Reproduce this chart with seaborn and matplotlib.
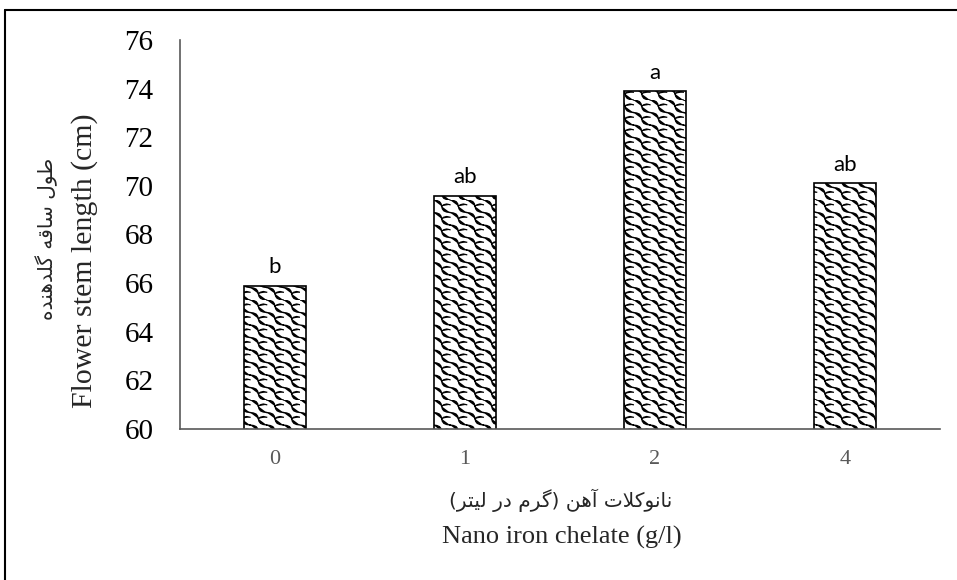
import numpy as np
import pandas as pd
import matplotlib
matplotlib.use("Agg")
import matplotlib.pyplot as plt
import seaborn as sns
from matplotlib import hatch as mhatch
from matplotlib.path import Path
from matplotlib.lines import Line2D

# ---------------- data ----------------
categories = ["0", "1", "2", "4"]
values = [65.9, 69.6, 73.9, 70.1]
letters = ["b", "ab", "a", "ab"]
yticks = [60, 62, 64, 66, 68, 70, 72, 74, 76]

ylabel_en = "Flower stem length (cm)"
ylabel_fa = "طول ساقه گلدهنده"
xlabel_en = "Nano iron chelate (g/l)"
xlabel_fa = "نانوکلات آهن (گرم در لیتر)"

# ---------------- minimal Persian shaping ----------------
FORMS = {
    'ا': ('\uFE8D', '\uFE8E', None, None),
    'آ': ('\uFE81', '\uFE82', None, None),
    'ت': ('\uFE95', '\uFE96', '\uFE97', '\uFE98'),
    'ر': ('\uFEAD', '\uFEAE', None, None),
    'د': ('\uFEA9', '\uFEAA', None, None),
    'س': ('\uFEB1', '\uFEB2', '\uFEB3', '\uFEB4'),
    'ط': ('\uFEC1', '\uFEC2', '\uFEC3', '\uFEC4'),
    'ق': ('\uFED5', '\uFED6', '\uFED7', '\uFED8'),
    'ک': ('\uFB8E', '\uFB8F', '\uFB90', '\uFB91'),
    'گ': ('\uFB92', '\uFB93', '\uFB94', '\uFB95'),
    'ل': ('\uFEDD', '\uFEDE', '\uFEDF', '\uFEE0'),
    'م': ('\uFEE1', '\uFEE2', '\uFEE3', '\uFEE4'),
    'ن': ('\uFEE5', '\uFEE6', '\uFEE7', '\uFEE8'),
    'ه': ('\uFEE9', '\uFEEA', '\uFEEB', '\uFEEC'),
    'و': ('\uFEED', '\uFEEE', None, None),
    'ی': ('\uFBFC', '\uFBFD', '\uFBFE', '\uFBFF'),
}


def shape_fa(s):
    out = []
    i = 0
    n = len(s)
    while i < n:
        c = s[i]
        if c not in FORMS:
            out.append(c)
            i += 1
            continue
        prev = s[i - 1] if i > 0 else None
        joins_prev = prev in FORMS and FORMS[prev][2] is not None
        if c == 'ل' and i + 1 < n and s[i + 1] == 'ا':
            out.append('\uFEFC' if joins_prev else '\uFEFB')
            i += 2
            continue
        nxt = s[i + 1] if i + 1 < n else None
        joins_next = FORMS[c][2] is not None and nxt in FORMS
        iso, fin, ini, med = FORMS[c]
        if joins_prev and joins_next:
            out.append(med)
        elif joins_prev:
            out.append(fin)
        elif joins_next:
            out.append(ini)
        else:
            out.append(iso)
        i += 1
    mirror = {'(': ')', ')': '('}
    return ''.join(mirror.get(ch, ch) for ch in reversed(out))


# ---------------- custom "shingle" hatch ----------------
class ShingleHatch(mhatch.HatchPatternBase):
    filled = False

    def __init__(self, hatch, density):
        self.on = hatch.count('\\') > 0
        self.nx, self.ny = 6, 8
        t = np.linspace(0, 1, 9)
        a = 0.12
        wave = [(tt + a * np.sin(2 * np.pi * tt), 1 - tt + a * np.sin(2 * np.pi * tt)) for tt in t]
        hook = [(0.5, 0.5), (0.62, 0.62), (0.8, 0.68), (1.0, 0.62)]
        self.motif = [wave, hook]
        per = sum(len(p) for p in self.motif)
        self.num_vertices = self.nx * self.ny * per if self.on else 0

    def set_vertices_and_codes(self, vertices, codes):
        k = 0
        for i in range(self.nx):
            for j in range(self.ny):
                for poly in self.motif:
                    for m, (u, v) in enumerate(poly):
                        vertices[k] = ((i + u) / self.nx, (j + v) / self.ny)
                        codes[k] = Path.MOVETO if m == 0 else Path.LINETO
                        k += 1


mhatch._hatch_types = [ShingleHatch]

# ---------------- plot ----------------
sns.set_theme(style="white")
plt.rcParams['hatch.linewidth'] = 0.9
plt.rcParams['font.family'] = ['Liberation Serif', 'DejaVu Sans']

df = pd.DataFrame({"cat": categories, "val": values})

fig = plt.figure(figsize=(9.57, 5.8), dpi=100)
ax = fig.add_axes([180 / 957, (580 - 429) / 580, (940 - 180) / 957, (429 - 40) / 580])

sns.barplot(data=df, x="cat", y="val", order=categories, color="white",
            edgecolor="black", linewidth=1.2, width=0.33, hatch="\\", ax=ax,
            saturation=1)

ax.set_ylim(60, 76)
ax.set_yticks(yticks)
ax.set_yticklabels([str(v) for v in yticks], fontsize=21, color="black",
                   family=['Liberation Serif'])
ax.tick_params(axis='y', length=0, pad=19)
ax.tick_params(axis='x', length=0, pad=15, labelsize=16, labelcolor="#595959")
for lab in ax.get_xticklabels():
    lab.set_family(['Liberation Serif'])

for side in ["top", "right"]:
    ax.spines[side].set_visible(False)
for side in ["left", "bottom"]:
    ax.spines[side].set_color("#595959")
    ax.spines[side].set_linewidth(1.2)

ax.set_xlabel("")
ax.set_ylabel("")

ax.bar_label(ax.containers[0], labels=letters, padding=6, fontsize=16,
             family=['Lato', 'DejaVu Sans'], color="black")

# axis titles
fig.text(562 / 957, 1 - 537 / 580, xlabel_en, ha="center", va="center",
         fontsize=19, family=['Liberation Serif'])
fig.text(561 / 957, 1 - 500 / 580, shape_fa(xlabel_fa), ha="center", va="center",
         fontsize=14.5, family=['DejaVu Sans'])
fig.text(85 / 957, 1 - 261 / 580, ylabel_en, ha="center", va="center",
         fontsize=21.5, rotation=90, family=['Liberation Serif'])
fig.text(47 / 957, 1 - 239 / 580, shape_fa(ylabel_fa), ha="center", va="center",
         fontsize=14.5, rotation=90, family=['DejaVu Sans'])

# figure frame (left and top)
fig.add_artist(Line2D([5 / 957, 5 / 957], [0, 1 - 10 / 580], color="black",
                      lw=1.5, transform=fig.transFigure))
fig.add_artist(Line2D([5 / 957, 1], [1 - 10 / 580, 1 - 10 / 580], color="black",
                      lw=1.5, transform=fig.transFigure))

fig.savefig("out.png", dpi=100)
